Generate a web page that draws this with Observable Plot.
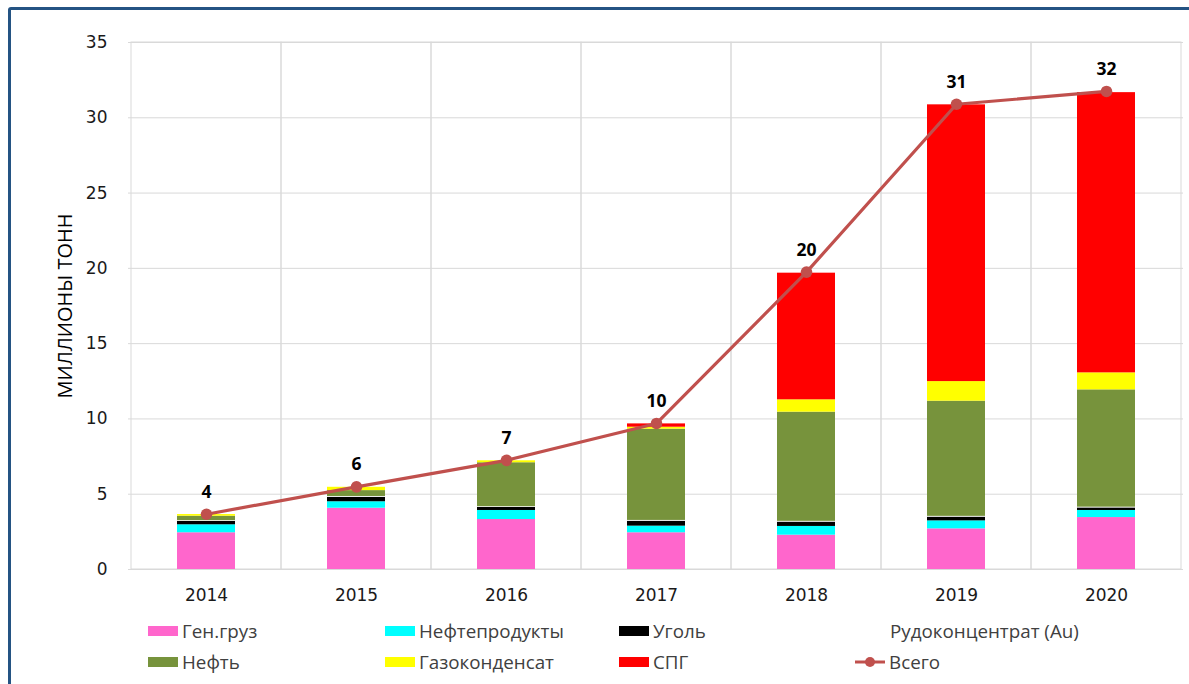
<!DOCTYPE html>
<html>
<head>
<meta charset="utf-8">
<script src="https://cdn.jsdelivr.net/npm/d3@7"></script>
<script src="https://cdn.jsdelivr.net/npm/@observablehq/plot@0.6"></script>
<style>
  html, body { margin: 0; padding: 0; background: #fff; width: 1189px; height: 684px; overflow: hidden; }
  #frame { position: absolute; left: 8px; top: 7px; width: 1200px; height: 700px; border: 3px solid #245383; border-radius: 3px; box-sizing: border-box; }
  #chart { position: absolute; left: 0; top: 0; }
  .leg { position: absolute; font-family: "Open Sans", "Noto Sans", sans-serif; font-size: 18.8px; color: #404040; line-height: 20px; white-space: nowrap; }
  .sw { position: absolute; width: 30px; height: 10px; }
</style>
</head>
<body>
<div id="frame"></div>
<div id="chart"></div>
<div id="legend"></div>
<script>
const years = ["2014", "2015", "2016", "2017", "2018", "2019", "2020"];
const seriesNames = ["Ген.груз", "Нефтепродукты", "Уголь", "Рудоконцентрат (Au)", "Нефть", "Газоконденсат", "СПГ"];
const seriesColors = ["#ff66cc", "#00ffff", "#000000", "#ffffff", "#77933c", "#ffff00", "#ff0000"];
const genGruz       = [2.44, 4.07, 3.32, 2.44, 2.28, 2.70, 3.45];
const nefteprodukty = [0.53, 0.43, 0.60, 0.44, 0.58, 0.53, 0.47];
const ugol          = [0.22, 0.30, 0.20, 0.33, 0.29, 0.25, 0.17];
const rudokonc      = [0.05, 0.05, 0.05, 0.05, 0.05, 0.05, 0.05];
const neft          = [0.30, 0.39, 2.92, 6.06, 7.25, 7.65, 7.79];
const gazokond      = [0.11, 0.22, 0.13, 0.13, 0.82, 1.30, 1.13];
const spg           = [0.00, 0.00, 0.00, 0.22, 8.41, 18.38, 18.61];
const vsego         = [3.67, 5.49, 7.25, 9.70, 19.75, 30.90, 31.75];
const vsegoLabels   = ["4", "6", "7", "10", "20", "31", "32"];
const yTicks = [0, 5, 10, 15, 20, 25, 30, 35];
const yTitle = "МИЛЛИОНЫ ТОНН";
const totalName = "Всего";
const totalColor = "#c0504d";

const seriesValues = [genGruz, nefteprodukty, ugol, rudokonc, neft, gazokond, spg];
const stacked = [];
seriesNames.forEach((s, i) => years.forEach((y, j) => stacked.push({year: y, series: s, value: seriesValues[i][j]})));
const totals = years.map((y, j) => ({year: y, value: vsego[j], label: vsegoLabels[j]}));

const chart = Plot.plot({
  width: 1189,
  height: 620,
  marginLeft: 128,
  marginRight: 6,
  marginTop: 42,
  marginBottom: 51,
  style: {fontFamily: "DejaVu Sans, Verdana, sans-serif", fontSize: "17px", color: "#1a1a1a", background: "transparent"},
  x: {type: "band", domain: years, padding: 0},
  y: {domain: [0, 35]},
  color: {domain: seriesNames, range: seriesColors},
  marks: [
    Plot.gridY(yTicks, {stroke: "#d9d9d9", strokeOpacity: 1, strokeWidth: 1}),
    Plot.cell(years, {x: d => d, stroke: "#d9d9d9", fill: "none", inset: 0}),
    Plot.barY(stacked, {x: "year", y: "value", fill: "series", insetLeft: 46, insetRight: 46, order: null}),
    Plot.axisX({tickSize: 0, tickPadding: 19, label: null, fontSize: 17}),
    Plot.axisY(yTicks, {tickSize: 0, tickPadding: 21, label: null, fontSize: 17}),
    Plot.text([yTitle], {frameAnchor: "left", text: d => d, rotate: -90, dx: -63, textAnchor: "middle", lineAnchor: "middle", fontSize: 20, fontFamily: "Open Sans, Noto Sans, sans-serif", fill: "#000"}),
    Plot.line(totals, {x: "year", y: "value", stroke: totalColor, strokeWidth: 3.2}),
    Plot.dot(totals, {x: "year", y: "value", r: 5.8, fill: totalColor, stroke: "none"}),
    Plot.text(totals, {x: "year", y: "value", text: "label", dy: -22, fontWeight: "bold", fontSize: 17.5, fontFamily: "Open Sans, Noto Sans, sans-serif", fill: "#000"})
  ]
});
document.getElementById("chart").append(chart);

// Legend
const legend = document.getElementById("legend");
const legendItems = [
  {name: seriesNames[0], color: seriesColors[0], x: 148, y: 631},
  {name: seriesNames[1], color: seriesColors[1], x: 385, y: 631},
  {name: seriesNames[2], color: seriesColors[2], x: 619, y: 631},
  {name: seriesNames[3], color: seriesColors[3], x: 856, y: 631},
  {name: seriesNames[4], color: seriesColors[4], x: 148, y: 662},
  {name: seriesNames[5], color: seriesColors[5], x: 385, y: 662},
  {name: seriesNames[6], color: seriesColors[6], x: 619, y: 662}
];
legendItems.forEach(it => {
  const sw = document.createElement("div");
  sw.className = "sw";
  sw.style.left = it.x + "px";
  sw.style.top = (it.y - 5) + "px";
  sw.style.background = it.color;
  legend.append(sw);
  const t = document.createElement("div");
  t.className = "leg";
  t.style.left = (it.x + 34) + "px";
  t.style.top = (it.y - 10) + "px";
  t.textContent = it.name;
  legend.append(t);
});
// total legend entry (line + dot)
const ns = "http://www.w3.org/2000/svg";
const ls = document.createElementNS(ns, "svg");
ls.setAttribute("width", 32); ls.setAttribute("height", 14);
ls.style.position = "absolute"; ls.style.left = "855px"; ls.style.top = (662 - 7) + "px";
const ln = document.createElementNS(ns, "line");
ln.setAttribute("x1", 0); ln.setAttribute("x2", 30); ln.setAttribute("y1", 7); ln.setAttribute("y2", 7);
ln.setAttribute("stroke", totalColor); ln.setAttribute("stroke-width", 3);
const dc = document.createElementNS(ns, "circle");
dc.setAttribute("cx", 15); dc.setAttribute("cy", 7); dc.setAttribute("r", 5); dc.setAttribute("fill", totalColor);
ls.append(ln, dc);
legend.append(ls);
const tt = document.createElement("div");
tt.className = "leg";
tt.style.left = "889px";
tt.style.top = (662 - 10) + "px";
tt.textContent = totalName;
legend.append(tt);
</script>
</body>
</html>
